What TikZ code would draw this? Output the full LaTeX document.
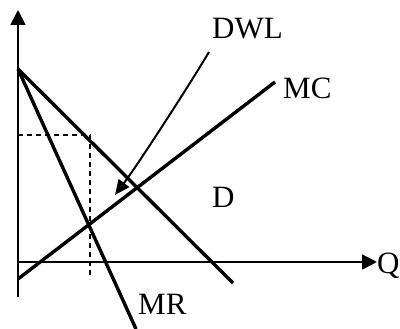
\documentclass[tikz,border=0pt]{standalone}
\usepackage{fontspec}
\setmainfont{Liberation Serif}
\usetikzlibrary{arrows.meta}
\tikzset{
  axis/.style={line width=1.8pt,-{Triangle[length=15pt,width=15pt]}},
  curve/.style={line width=3.4pt},
  guide/.style={line width=2.4pt,dash pattern=on 5pt off 4pt},
  lbl/.style={inner sep=0pt,anchor=base west,font=\fontsize{31}{37}\selectfont},
  pointer/.style={line width=2pt,-{Triangle[length=15pt,width=13pt]}}
}
\begin{document}
\begin{tikzpicture}[x=1pt,y=-1pt]
\useasboundingbox (0,0) rectangle (400,329);
% axes
\coordinate (O) at (18,262);
\coordinate (ybot) at (18,297);
\coordinate (ytop) at (18,10);
\coordinate (xend) at (377,262);
\draw[axis] (ybot) -- (ytop);
\draw[axis] (O) -- (xend);
% curves
\coordinate (P) at (18,69);
\coordinate (Dend) at (233,283);
\coordinate (MRend) at (136,329);
\coordinate (MCstart) at (18,279);
\coordinate (MCend) at (275,82);
\draw[curve] (P) -- (Dend);
\draw[curve] (P) -- (MRend);
\draw[curve] (MCstart) -- (MCend);
% dashed guides
\coordinate (pm) at (18,135);
\coordinate (corner) at (90,135);
\coordinate (qm) at (90,279);
\draw[guide] (pm) -- (corner) -- (qm);
% labels
\node[lbl] (dwl) at (212,39) {DWL};
\node[lbl] (mc) at (283,99) {MC};
\node[lbl] (d) at (212,208) {D};
\node[lbl] (q) at (377,274) {Q};
\node[lbl] (mr) at (138,315) {MR};
% pointer
\coordinate (ps) at (209,52);
\coordinate (pt) at (115,195);
\draw[pointer] (ps) .. controls (190,84) and (139,163) .. (pt);
\end{tikzpicture}
\end{document}
